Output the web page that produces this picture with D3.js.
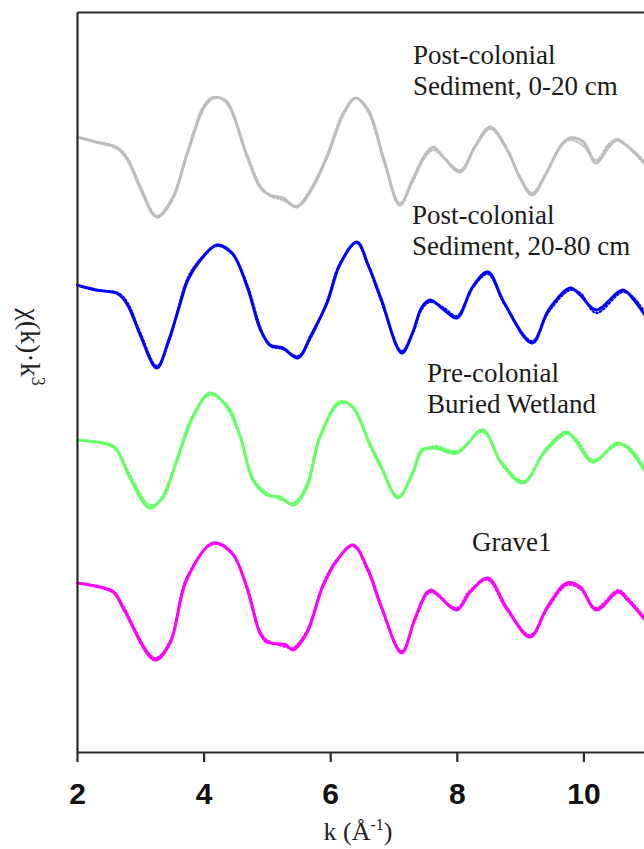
<!DOCTYPE html>
<html>
<head>
<meta charset="utf-8">
<script src="https://cdn.jsdelivr.net/npm/d3@7"></script>
<style>
  html, body { margin: 0; padding: 0; background: #fff; }
  svg { display: block; }
</style>
</head>
<body>
<svg id="chart"></svg>
<script>
// EXAFS chi(k)*k^3 spectra, stacked with vertical offsets (arbitrary units).
// Each sample: measured spectrum (solid) and model fit (dotted).

const xTicks = [2, 4, 6, 8, 10];

const seriesNames = ["Post-colonial Sediment, 0-20 cm", "Post-colonial Sediment, 20-80 cm",
                     "Pre-colonial Buried Wetland", "Grave1"];
const seriesColors = ["#bdbdbd", "#0000ff", "#66ff66", "#ff00ff"];
const seriesOffsets = [60, 45, 30, 15];

const kGray   = [2.00,2.30,2.63,2.80,3.00,3.26,3.50,3.75,4.00,4.15,4.35,4.69,4.90,5.05,5.25,5.47,5.70,5.95,6.20,6.40,6.60,6.85,7.10,7.30,7.50,7.63,7.80,8.05,8.30,8.53,8.80,9.00,9.19,9.40,9.65,9.79,10.00,10.20,10.40,10.53,10.80,11.00];
const gray    = [1.1,0.6,0.0,-1.2,-4.0,-6.9,-5.2,-0.4,4.0,5.0,4.7,-0.9,-4.0,-4.7,-5.0,-5.9,-4.2,-0.9,3.3,5.0,3.8,-1.2,-5.7,-3.2,-0.7,0.1,-1.0,-2.4,0.3,2.1,-0.2,-3.0,-4.7,-2.7,0.3,1.0,0.6,-1.5,0.1,0.8,-0.4,-1.7];
const grayFit = [1.1,0.6,0.1,-1.0,-3.8,-6.8,-5.0,-0.2,4.2,5.1,4.6,-0.7,-3.8,-4.8,-5.2,-5.8,-4.0,-0.7,3.5,5.0,3.6,-1.4,-5.5,-3.4,-0.9,-0.2,-1.0,-2.2,0.2,1.9,-0.3,-2.9,-4.5,-2.6,0.2,0.8,0.2,-1.2,0.4,0.9,-0.5,-1.9];

const kBlue   = [2.00,2.30,2.65,2.80,3.00,3.26,3.45,3.60,3.75,3.95,4.21,4.45,4.69,4.90,5.05,5.25,5.49,5.70,5.95,6.15,6.42,6.60,6.80,7.13,7.30,7.45,7.58,7.80,8.00,8.25,8.49,8.75,9.19,9.45,9.79,9.95,10.20,10.62,10.80,11.00];
const blue    = [1.3,0.8,0.4,-0.7,-3.7,-7.0,-4.2,-1.2,1.8,3.8,5.3,4.5,1.1,-3.2,-4.7,-5.0,-6.0,-3.7,-0.5,3.3,5.6,3.3,0.0,-5.5,-3.5,-0.9,-0.2,-1.2,-2.0,1.1,2.6,-0.5,-4.5,-1.2,1.0,0.3,-1.2,0.8,-0.2,-2.0];
const blueFit = [1.3,0.8,0.5,-0.5,-3.5,-6.8,-4.4,-1.0,2.0,3.9,5.2,4.4,1.3,-3.0,-4.8,-5.1,-5.8,-3.9,-0.3,3.4,5.5,3.2,-0.2,-5.3,-3.6,-1.1,-0.4,-1.0,-1.8,1.0,2.4,-0.6,-4.3,-1.4,0.8,0.5,-1.5,0.6,0.0,-1.8];

const kGreen   = [2.00,2.52,2.63,2.83,3.15,3.35,3.58,3.83,4.10,4.37,4.58,4.78,5.00,5.20,5.42,5.63,5.84,6.15,6.35,6.62,6.80,7.07,7.30,7.45,7.65,8.00,8.41,8.70,9.05,9.40,9.74,9.90,10.15,10.53,10.70,11.00];
const green    = [0.8,0.3,-0.2,-2.9,-6.0,-4.9,-1.2,3.1,5.5,4.1,1.1,-3.2,-4.7,-4.9,-5.7,-3.9,1.1,4.6,4.1,0.5,-1.8,-5.0,-2.5,-0.2,0.0,-0.5,1.8,-1.5,-3.5,-0.2,1.6,0.5,-1.4,0.5,0.0,-2.6];
const greenFit = [0.8,0.4,-0.1,-2.6,-5.7,-5.1,-1.0,3.3,5.3,4.3,1.3,-3.0,-4.5,-5.1,-5.5,-3.6,1.3,4.4,4.2,0.3,-2.0,-4.8,-2.7,-0.4,0.2,-0.3,1.6,-1.3,-3.3,-0.4,1.4,0.8,-1.2,0.3,0.2,-2.3];

const kMagenta   = [2.00,2.57,2.72,3.23,3.47,3.73,4.15,4.45,4.68,4.89,5.00,5.30,5.41,5.63,5.88,6.10,6.36,6.60,6.80,7.13,7.33,7.52,7.60,8.00,8.20,8.49,8.78,9.16,9.43,9.74,9.95,10.20,10.55,10.70,11.00];
const magenta    = [1.5,0.6,-0.9,-6.2,-4.5,1.8,5.5,4.5,1.1,-3.5,-4.4,-4.7,-5.2,-3.5,1.1,3.7,5.3,2.8,-0.7,-5.5,-2.2,0.5,0.8,-1.2,0.5,2.0,-0.9,-3.9,-0.9,1.5,1.1,-1.2,0.6,-0.2,-2.4];
const magentaFit = [1.5,0.7,-0.7,-6.0,-4.3,2.0,5.4,4.4,1.3,-3.3,-4.2,-4.9,-5.0,-3.3,1.3,3.8,5.2,2.6,-0.9,-5.3,-2.4,0.3,0.6,-1.0,0.7,1.8,-1.1,-3.7,-1.1,1.3,0.9,-1.0,0.8,0.0,-2.2];

const seriesK   = [kGray, kBlue, kGreen, kMagenta];
const seriesObs = [gray, blue, green, magenta];
const seriesFit = [grayFit, blueFit, greenFit, magentaFit];

const W = 644, H = 849;
const svg = d3.select("#chart").attr("width", W).attr("height", H);

const x = d3.scaleLinear().domain([2, 12]).range([77, 710]);
const y = d3.scaleLinear().domain([-0.4, 73.6]).range([752, 12]);

const line = d3.line()
  .x(d => x(d[0]))
  .y(d => y(d[1]))
  .curve(d3.curveCatmullRom.alpha(0.5));

const plot = svg.append("g");

seriesK.forEach((ks, i) => {
  const obs = ks.map((k, j) => [k, seriesObs[i][j] + seriesOffsets[i]]);
  const fit = ks.map((k, j) => [k, seriesFit[i][j] + seriesOffsets[i]]);
  plot.append("path")
    .datum(obs)
    .attr("fill", "none")
    .attr("stroke", seriesColors[i])
    .attr("stroke-width", 3)
    .attr("stroke-linejoin", "round")
    .attr("d", line);
  plot.append("path")
    .datum(fit)
    .attr("fill", "none")
    .attr("stroke", seriesColors[i])
    .attr("stroke-width", 2.2)
    .attr("stroke-dasharray", "1.5,2.5")
    .attr("stroke-linecap", "round")
    .attr("d", line);
});

// frame: left, top and bottom axis lines
const axisColor = "#2a2a2a";
const gLeft = svg.append("g").attr("transform", `translate(${x(2)},0)`)
  .call(d3.axisLeft(y).tickValues([]).tickSizeOuter(0));
const gTop = svg.append("g").attr("transform", `translate(0,${y.range()[1]})`)
  .call(d3.axisTop(x).tickValues([]).tickSizeOuter(0));
const gBottom = svg.append("g").attr("transform", `translate(0,${y.range()[0]})`)
  .call(d3.axisBottom(x).tickValues(xTicks).tickFormat(d3.format("d")).tickSize(10).tickSizeOuter(0));

[gLeft, gTop, gBottom].forEach(g => {
  g.select(".domain").attr("stroke", axisColor).attr("stroke-width", 2.2);
  g.selectAll(".tick line").attr("stroke", axisColor).attr("stroke-width", 2.2);
});
gBottom.selectAll(".tick text")
  .attr("y", 52).attr("dy", null)
  .attr("fill", "#111")
  .style("font-family", "'Liberation Sans', Arial, sans-serif")
  .style("font-weight", "bold")
  .style("font-size", "30px");

// axis titles
const serif = "'Liberation Serif', 'Times New Roman', serif";
const xTitle = svg.append("text")
  .attr("x", 358).attr("y", 840)
  .attr("text-anchor", "middle")
  .style("font-family", serif).style("font-size", "26px").attr("fill", "#222");
xTitle.append("tspan").text("k (Å");
xTitle.append("tspan").attr("dy", -10).style("font-size", "16px").text("-1");
xTitle.append("tspan").attr("dy", 10).text(")");

const yTitle = svg.append("text")
  .attr("transform", "translate(21,347) rotate(90)")
  .attr("text-anchor", "middle")
  .style("font-family", serif).style("font-size", "28px").attr("fill", "#222");
yTitle.append("tspan").text("χ(k)·k");
yTitle.append("tspan").attr("dy", -11).style("font-size", "18px").text("3");

// series labels
const labels = [
  { lines: ["Post-colonial", "Sediment, 0-20 cm"], x: 413, y: 64 },
  { lines: ["Post-colonial", "Sediment, 20-80 cm"], x: 412, y: 224 },
  { lines: ["Pre-colonial", "Buried Wetland"], x: 427, y: 382 },
  { lines: ["Grave1"], x: 472, y: 551 }
];
labels.forEach(l => {
  const t = svg.append("text")
    .attr("x", l.x).attr("y", l.y)
    .style("font-family", serif).style("font-size", "27px").attr("fill", "#1a1a1a");
  l.lines.forEach((s, i) => {
    t.append("tspan").attr("x", l.x).attr("dy", i === 0 ? 0 : 31).text(s);
  });
});
</script>
</body>
</html>
